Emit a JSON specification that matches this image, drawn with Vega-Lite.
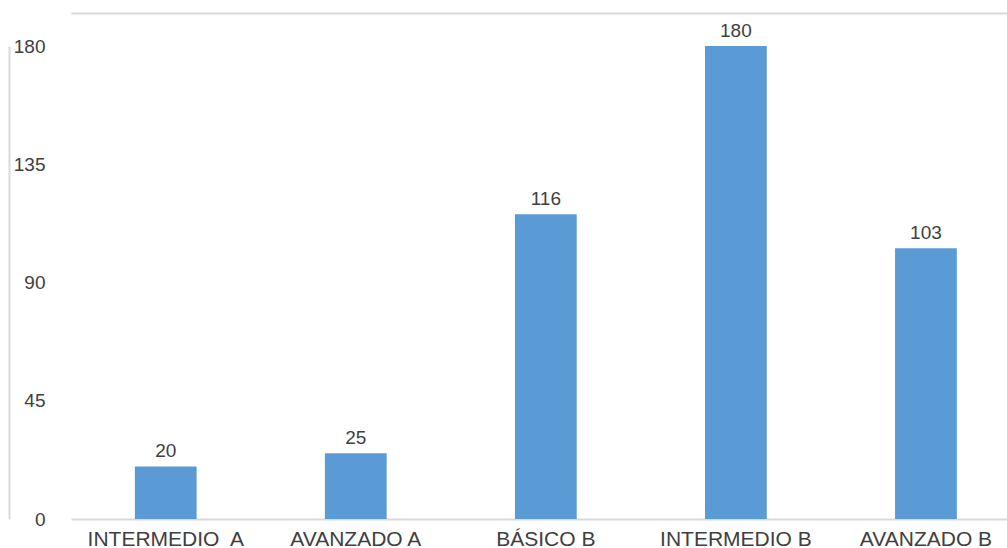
{
  "$schema": "https://vega.github.io/schema/vega-lite/v6.json",
  "width": 936,
  "height": 473,
  "autosize": {"type": "none"},
  "padding": {"left": 71, "top": 46, "right": 0, "bottom": 29},
  "background": "white",
  "config": {
    "view": {"stroke": null},
    "font": "Liberation Sans"
  },
  "data": {
    "values": [
      {"nivel": "INTERMEDIO\u00a0 A", "n": 20},
      {"nivel": "AVANZADO A", "n": 25},
      {"nivel": "BÁSICO B", "n": 116},
      {"nivel": "INTERMEDIO B", "n": 180},
      {"nivel": "AVANZADO B", "n": 103}
    ]
  },
  "encoding": {
    "x": {
      "field": "nivel",
      "type": "nominal",
      "sort": null,
      "scale": {"paddingInner": 0.675, "paddingOuter": 0.3, "align": 0.56}
    },
    "y": {
      "field": "n",
      "type": "quantitative",
      "scale": {"domain": [0, 180], "nice": false, "zero": true}
    }
  },
  "layer": [
    {
      "mark": {"type": "bar", "color": "#5B9BD5"},
      "encoding": {
        "x": {
          "field": "nivel",
          "type": "nominal",
          "sort": null,
          "axis": {
            "title": null,
            "labelAngle": 0,
            "labelFontSize": 21,
            "labelColor": "#404040",
            "labelPadding": 9,
            "ticks": false,
            "domainColor": "#d9d9d9",
            "domainWidth": 2,
            "labelFont": "Liberation Sans"
          }
        },
        "y": {
          "field": "n",
          "type": "quantitative",
          "axis": {
            "title": null,
            "values": [0, 45, 90, 135, 180],
            "grid": false,
            "ticks": false,
            "tickSize": 0,
            "offset": 62,
            "labelPadding": -36,
            "labelAlign": "right",
            "labelFontSize": 19,
            "labelColor": "#404040",
            "domainColor": "#d9d9d9",
            "domainWidth": 2,
            "labelFont": "Liberation Sans"
          }
        }
      }
    },
    {
      "mark": {"type": "text", "baseline": "alphabetic", "dy": -9, "fontSize": 19, "color": "#404040", "font": "Liberation Sans"},
      "encoding": {
        "x": {
          "field": "nivel",
          "type": "nominal",
          "sort": null,
          "axis": {
            "orient": "top",
            "title": null,
            "labels": false,
            "ticks": false,
            "offset": 33,
            "domainColor": "#d9d9d9",
            "domainWidth": 2
          }
        },
        "text": {"field": "n", "type": "quantitative"}
      }
    }
  ],
  "resolve": {"axis": {"x": "independent"}}
}
